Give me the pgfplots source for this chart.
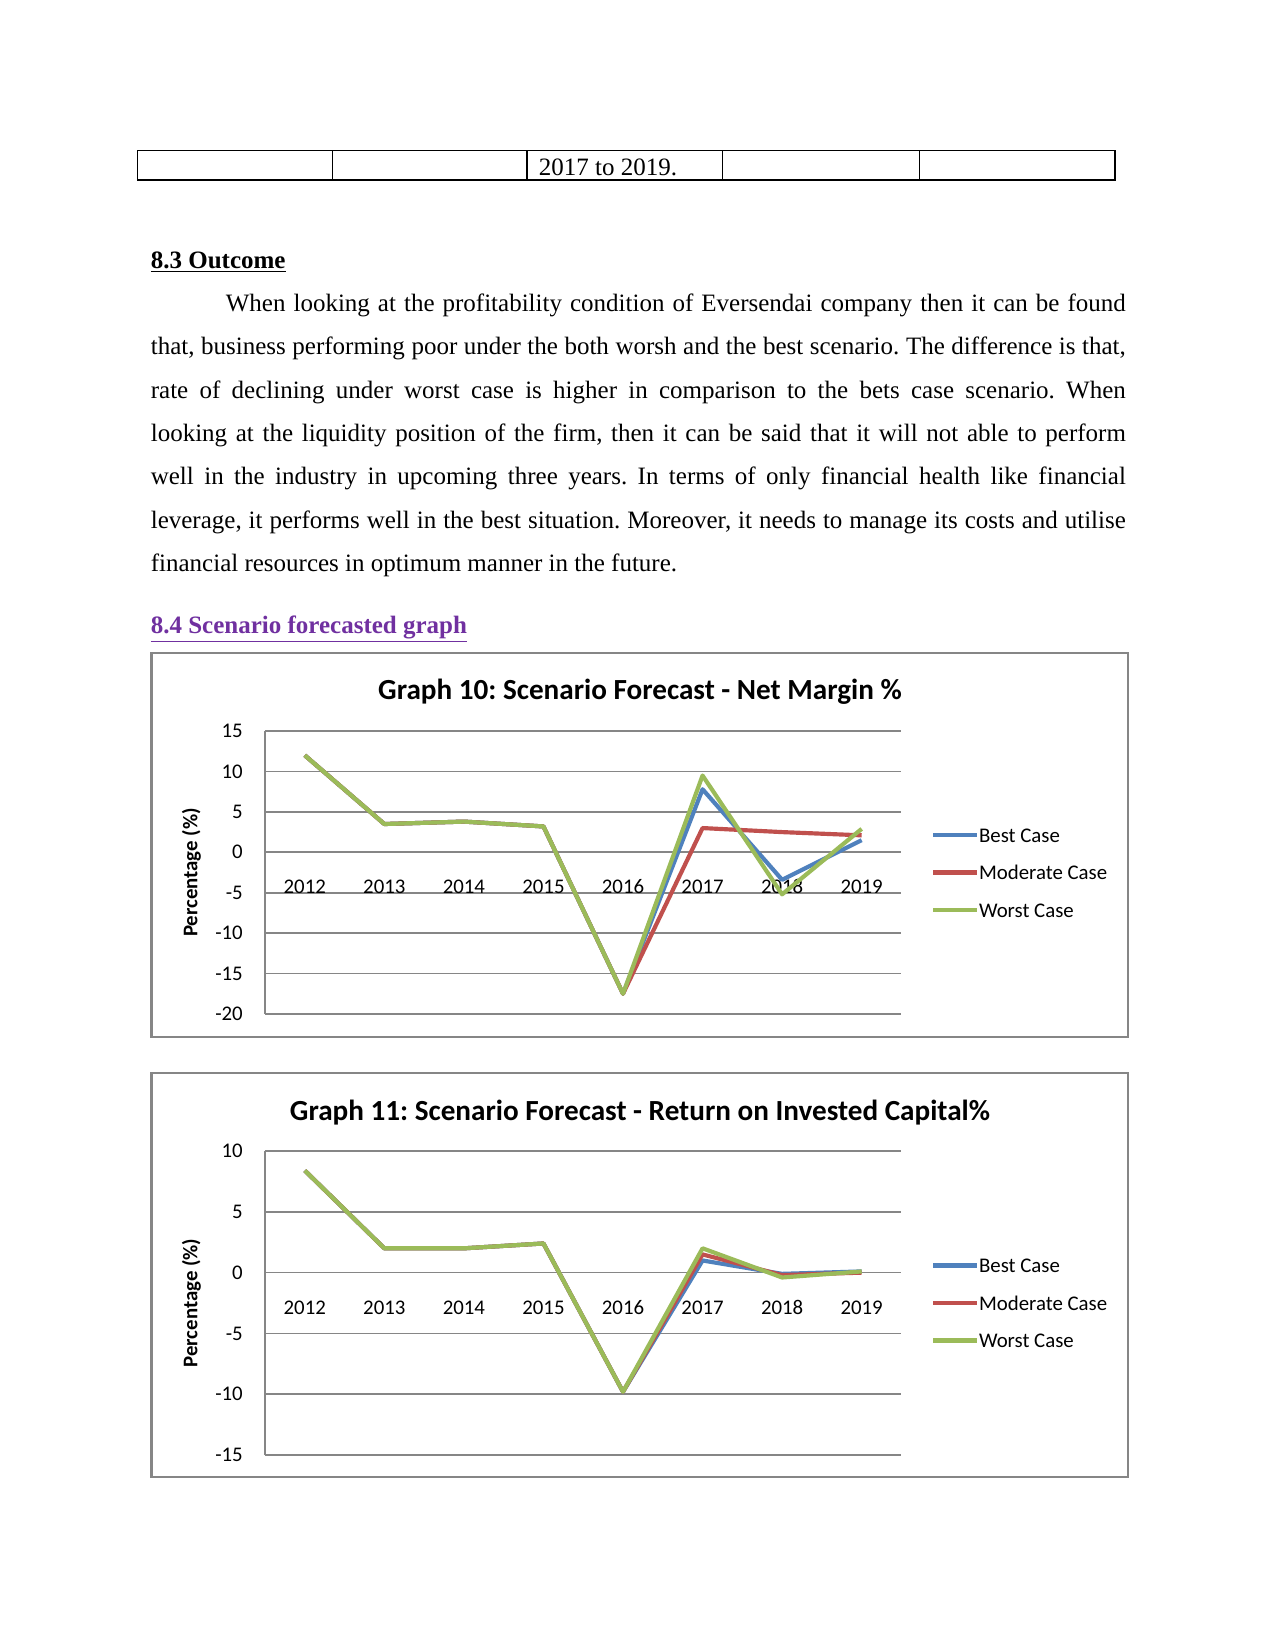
\documentclass[border=0pt]{standalone}
\usepackage{fontspec}
\setmainfont{Liberation Serif}
\newfontfamily\carlito{Carlito}
\usepackage{pgfplots}
\pgfplotsset{compat=1.18}
\definecolor{bestc}{HTML}{4F81BD}
\definecolor{modc}{HTML}{C0504D}
\definecolor{worstc}{HTML}{9BBB59}
\definecolor{gridc}{HTML}{868686}
\definecolor{headc}{HTML}{7030A0}

\pgfplotsset{
  scen/.style={
    scale only axis, anchor=south west,
    width=305.5pt,
    xmin=-0.5, xmax=7.5,
    xtick={0,...,7},
    xticklabels={2012,2013,2014,2015,2016,2017,2018,2019},
    axis x line=middle, axis y line=left,
    x axis line style={draw=none},
    y axis line style={-, draw=gridc, line width=0.8pt},
    tick style={draw=none},
    ymajorgrids, major grid style={draw=gridc, line width=0.8pt},
    /pgf/number format/assume math mode=true,
    tick label style={font=\carlito\fontsize{10}{12}\selectfont},
    xticklabel style={anchor=base, yshift=-17.8pt},
    yticklabel style={xshift=-5pt},
    legend style={draw=none, fill=none, anchor=west,
      at={(rel axis cs:1.046,0.5)}, inner sep=0pt, row sep=11pt, column sep=0pt,
      nodes={inner sep=0pt, text height=7pt, text depth=0pt,
        font=\carlito\fontsize{10}{12}\selectfont}},
    legend cell align=left,
    legend image code/.code={\draw[#1] (0pt,0pt) -- (21pt,0pt);},
    every axis plot/.append style={line width=2pt, line join=round},
  }
}

\begin{document}
\frenchspacing
\begin{tikzpicture}
\fill[white] (0pt,0pt) rectangle (612pt,-792pt);

% table row
\draw[line width=0.7pt] (66.1pt,-72.2pt) rectangle (535.2pt,-86.4pt);
\foreach \xx in {159.6,253.0,346.9,441.4}
  \draw[line width=0.7pt] (\xx pt,-72.2pt) -- (\xx pt,-86.4pt);
\node[anchor=base west, inner sep=0pt, font=\fontsize{12}{14}\selectfont] at (258.5pt,-84.2pt) {2017 to 2019.};

% headings and paragraph
\node[anchor=base west, inner sep=0pt, font=\fontsize{12}{14}\selectfont\bfseries] at (72.2pt,-128.7pt) {\underline{8.3 Outcome}};
\node[anchor=base west, inner sep=0pt] at (72.2pt,-149.5pt) {\parbox[t]{468pt}{\fontsize{12}{20.7}\selectfont
\setlength{\baselineskip}{20.8pt}\hspace*{36pt}When looking at the profitability condition of Eversendai company then it can be found \linebreak
that, business performing poor under the both worsh and the best scenario. The difference is that, \linebreak
rate of declining under worst case is higher in comparison to the bets case scenario. When \linebreak
looking at the liquidity position of the firm, then it can be said that it will not able to perform \linebreak
well in the industry in upcoming three years. In terms of only financial health like financial \linebreak
leverage, it performs well in the best situation. Moreover, it needs to manage its costs and utilise \linebreak
financial resources in optimum manner in the future.}};
\node[anchor=base west, inner sep=0pt, text=headc, font=\fontsize{12}{14}\selectfont\bfseries] at (72.2pt,-304pt) {\underline{8.4 Scenario forecasted graph}};

% ---------- Graph 10 ----------
\draw[gridc, line width=1pt] (72.7pt,-313.4pt) rectangle (541.4pt,-497.8pt);
\node[font=\carlito\bfseries\fontsize{14}{16}\selectfont] at (307.2pt,-332.2pt) {Graph 10: Scenario Forecast - Net Margin \%};
\node[rotate=90, font=\carlito\bfseries\fontsize{10}{12}\selectfont] at (91.9pt,-418.8pt) {Percentage (\%)};
\begin{axis}[scen, at={(127.2pt,-486.7pt)}, height=135.8pt,
  ymin=-20, ymax=15, ytick={-20,-15,...,15}]
\addplot[bestc] coordinates {(0,12) (1,3.5) (2,3.8) (3,3.2) (4,-17.5) (5,7.8) (6,-3.4) (7,1.5)};
\addlegendentry{Best Case}
\addplot[modc] coordinates {(0,12) (1,3.5) (2,3.8) (3,3.2) (4,-17.5) (5,3.0) (6,2.5) (7,2.1)};
\addlegendentry{Moderate Case}
\addplot[worstc] coordinates {(0,12) (1,3.5) (2,3.8) (3,3.2) (4,-17.5) (5,9.5) (6,-5.2) (7,2.9)};
\addlegendentry{Worst Case}
\end{axis}

% ---------- Graph 11 ----------
\draw[gridc, line width=1pt] (72.7pt,-515pt) rectangle (541.4pt,-709pt);
\node[font=\carlito\bfseries\fontsize{14}{16}\selectfont] at (307.2pt,-533.8pt) {Graph 11: Scenario Forecast - Return on Invested Capital\%};
\node[rotate=90, font=\carlito\bfseries\fontsize{10}{12}\selectfont] at (91.9pt,-625.4pt) {Percentage (\%)};
\begin{axis}[scen, at={(127.2pt,-698.4pt)}, height=145.9pt,
  ymin=-15, ymax=10, ytick={-15,-10,...,10}]
\addplot[bestc] coordinates {(0,8.4) (1,2.0) (2,2.0) (3,2.4) (4,-9.8) (5,1.0) (6,-0.1) (7,0.1)};
\addlegendentry{Best Case}
\addplot[modc] coordinates {(0,8.4) (1,2.0) (2,2.0) (3,2.4) (4,-9.8) (5,1.5) (6,-0.2) (7,0.0)};
\addlegendentry{Moderate Case}
\addplot[worstc] coordinates {(0,8.4) (1,2.0) (2,2.0) (3,2.4) (4,-9.8) (5,2.0) (6,-0.4) (7,0.1)};
\addlegendentry{Worst Case}
\end{axis}
\end{tikzpicture}
\end{document}
